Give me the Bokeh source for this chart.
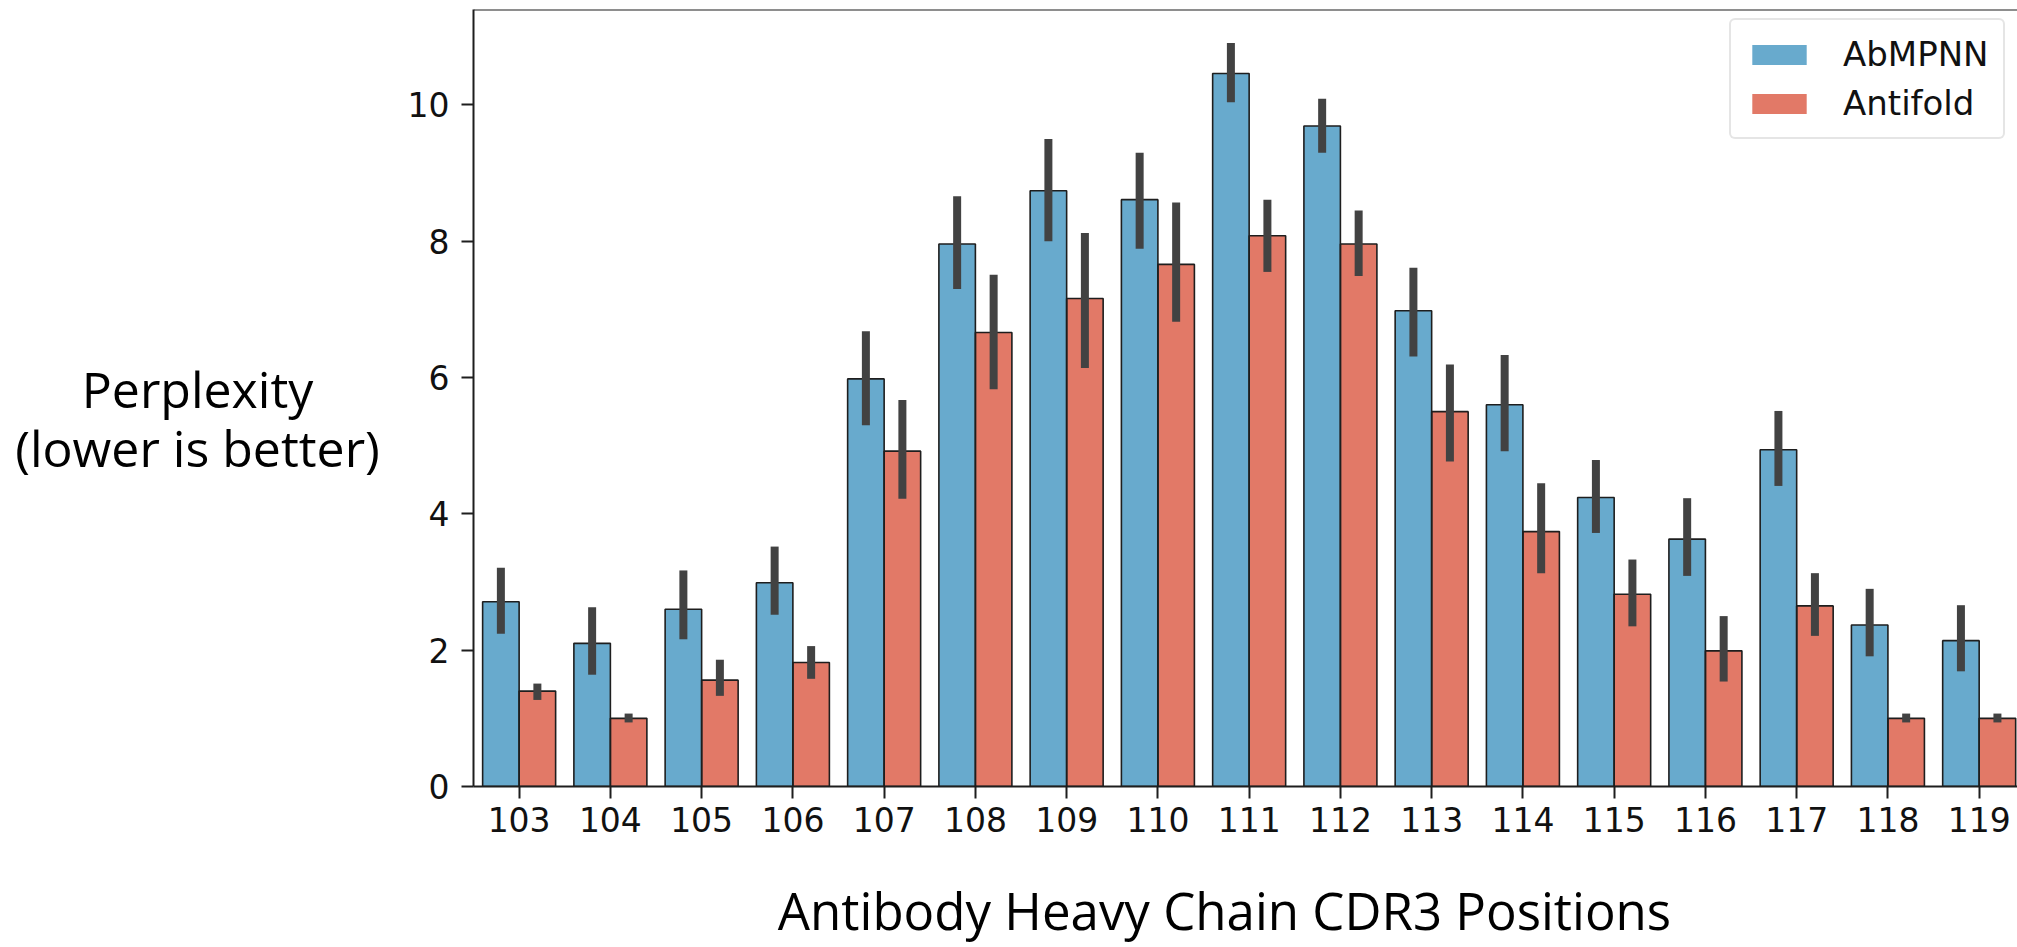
from bokeh.plotting import figure
from bokeh.models import (ColumnDataSource, FixedTicker, Span, Legend, LegendItem, Range1d, Label)
from bokeh.layouts import row, column
from bokeh.embed import file_html
from bokeh.resources import INLINE

positions = ["103", "104", "105", "106", "107", "108", "109", "110", "111",
             "112", "113", "114", "115", "116", "117", "118", "119"]

abmpnn_mean = [2.71, 2.10, 2.60, 2.99, 5.98, 7.96, 8.74, 8.61, 10.46,
               9.69, 6.98, 5.60, 4.24, 3.63, 4.94, 2.37, 2.14]
abmpnn_hi = [3.21, 2.63, 3.17, 3.52, 6.68, 8.66, 9.50, 9.30, 10.91,
             10.09, 7.61, 6.33, 4.79, 4.23, 5.51, 2.90, 2.66]
abmpnn_lo = [2.24, 1.64, 2.16, 2.52, 5.30, 7.30, 8.00, 7.89, 10.04,
             9.30, 6.31, 4.92, 3.72, 3.09, 4.41, 1.91, 1.69]

antifold_mean = [1.40, 1.00, 1.56, 1.82, 4.92, 6.66, 7.16, 7.66, 8.08,
                 7.96, 5.50, 3.74, 2.82, 1.99, 2.65, 1.00, 1.00]
antifold_hi = [1.51, 1.07, 1.86, 2.06, 5.67, 7.51, 8.12, 8.57, 8.61,
               8.45, 6.19, 4.45, 3.33, 2.50, 3.13, 1.07, 1.07]
antifold_lo = [1.27, 0.94, 1.33, 1.58, 4.22, 5.83, 6.14, 6.82, 7.55,
               7.49, 4.77, 3.13, 2.35, 1.54, 2.21, 0.94, 0.94]

series_names = ["AbMPNN", "Antifold"]
y_ticks = [0, 2, 4, 6, 8, 10]
y_title_lines = ["Perplexity", "(lower is better)"]
x_title = "Antibody Heavy Chain CDR3 Positions"

BLUE = "#68aacd"
RED = "#e27967"
EDGE = "#1e1e1e"
ERR = "#424242"
TITLE_FONT = "Open Sans"

idx = list(range(len(positions)))
bar_w = 0.4

LEFT_W = 400
TOP_H = 870
TOTAL_W = 2017
TOTAL_H = 947
FRAME_BOTTOM = 786  # canvas y of the plot frame bottom

# ---------- main chart ----------
p = figure(width=TOTAL_W - LEFT_W, height=TOP_H, output_backend="svg", toolbar_location=None,
           x_range=Range1d(-0.5, 16.42), y_range=Range1d(0, 11.4),
           min_border_left=473 - LEFT_W, min_border_right=0, min_border_top=9,
           min_border_bottom=TOP_H - FRAME_BOTTOM)
p.background_fill_color = "white"
p.border_fill_color = "white"
p.outline_line_color = None
p.xgrid.visible = False
p.ygrid.visible = False

src_a = ColumnDataSource(dict(x=[i - bar_w / 2 for i in idx], top=abmpnn_mean,
                              lo=abmpnn_lo, hi=abmpnn_hi))
src_b = ColumnDataSource(dict(x=[i + bar_w / 2 for i in idx], top=antifold_mean,
                              lo=antifold_lo, hi=antifold_hi))

fa = p.vbar(x="x", top="top", bottom=0, width=bar_w, source=src_a,
            fill_color=BLUE, line_color=None)
fb = p.vbar(x="x", top="top", bottom=0, width=bar_w, source=src_b,
            fill_color=RED, line_color=None)
p.vbar(x="x", top="top", bottom=0, width=bar_w, source=src_a,
       fill_color=None, line_color=EDGE, line_width=1.6)
p.vbar(x="x", top="top", bottom=0, width=bar_w, source=src_b,
       fill_color=None, line_color=EDGE, line_width=1.6)
p.segment(x0="x", x1="x", y0="lo", y1="hi", source=src_a,
          line_color=ERR, line_width=8, line_cap="butt")
p.segment(x0="x", x1="x", y0="lo", y1="hi", source=src_b,
          line_color=ERR, line_width=8, line_cap="butt")

legend = Legend(items=[LegendItem(label=series_names[0], renderers=[fa]),
                       LegendItem(label=series_names[1], renderers=[fb])],
                location=(1256, 647), orientation="vertical")
legend.glyph_width = 68
legend.glyph_height = 25
legend.label_standoff = 30
legend.label_text_font = "DejaVu Sans"
legend.label_text_font_size = "34px"
legend.label_text_color = "#111111"
legend.padding = 14
legend.spacing = 9
legend.margin = 0
legend.border_line_color = "#cccccc"
legend.border_line_width = 2
legend.border_radius = 6
legend.background_fill_alpha = 0.85
p.add_layout(legend, "center")

for ax in (p.xaxis[0], p.yaxis[0]):
    ax.axis_line_color = EDGE
    ax.axis_line_width = 2
    ax.major_tick_line_color = EDGE
    ax.major_tick_line_width = 2
    ax.major_tick_out = 12
    ax.major_tick_in = 0
    ax.minor_tick_line_color = None
    ax.major_label_text_font = "DejaVu Sans"
    ax.major_label_text_font_size = "33px"
    ax.major_label_text_color = "#111111"

p.xaxis.ticker = FixedTicker(ticks=idx)
p.xaxis.major_label_overrides = {i: lab for i, lab in zip(idx, positions)}
p.xaxis.major_label_standoff = 8
p.yaxis.ticker = FixedTicker(ticks=y_ticks)
p.yaxis.major_label_standoff = 12

p.add_layout(Span(location=11.4, dimension="width", line_color=EDGE, line_width=2))

# ---------- y-axis title (horizontal, two centred lines) ----------
# this figure's frame is aligned with the main frame (bottom at canvas y=786)
left = figure(width=LEFT_W, height=TOP_H, output_backend="svg", toolbar_location=None,
              x_axis_location=None, y_axis_location=None, min_border=0,
              x_range=Range1d(0, 1), y_range=Range1d(0, 1))
left.outline_line_color = None
left.xgrid.visible = False
left.ygrid.visible = False
for line_text, mid_y in zip(y_title_lines, [388, 447]):
    left.add_layout(Label(x=197, y=FRAME_BOTTOM - mid_y, x_units="screen", y_units="screen",
                          text=line_text, text_font=TITLE_FONT, text_font_size="50px",
                          text_align="center", text_baseline="middle",
                          text_color="black"))

# ---------- x-axis title ----------
bottom = figure(width=TOTAL_W, height=TOTAL_H - TOP_H, output_backend="svg",
                toolbar_location=None, x_axis_location=None, y_axis_location=None,
                min_border=0, x_range=Range1d(0, 1), y_range=Range1d(0, 1))
bottom.outline_line_color = None
bottom.xgrid.visible = False
bottom.ygrid.visible = False
bottom.add_layout(Label(x=1224, y=TOTAL_H - 909, x_units="screen", y_units="screen",
                        text=x_title, text_font=TITLE_FONT, text_font_size="51px",
                        text_align="center", text_baseline="middle",
                        text_color="black"))

layout = column(row(left, p), bottom)
open("out.html", "w").write(file_html(layout, INLINE))
